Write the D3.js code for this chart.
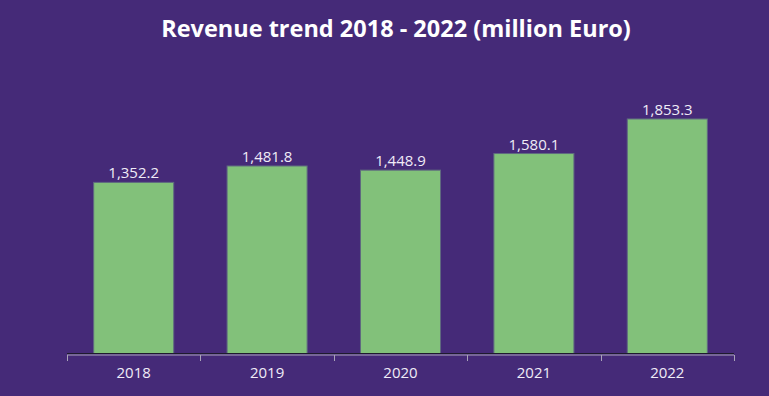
<!DOCTYPE html>
<html>
<head>
<meta charset="utf-8">
<script src="https://cdn.jsdelivr.net/npm/d3@7"></script>
<style>
  html, body { margin: 0; padding: 0; background: #452a78; }
  svg { display: block; font-family: "Open Sans", sans-serif; }
</style>
</head>
<body>
<svg id="chart" width="769" height="396"></svg>
<script>
// chart data
var years = ["2018", "2019", "2020", "2021", "2022"];
var revenue = [1352.2, 1481.8, 1448.9, 1580.1, 1853.3];
var title = "Revenue trend 2018 - 2022 (million Euro)";

var width = 769, height = 396;
var left = 67, right = 734, bottom = 353.5;
var fmt = d3.format(",.1f");

var svg = d3.select("#chart");

svg.append("rect")
    .attr("width", width)
    .attr("height", height)
    .attr("fill", "#452a78");

svg.append("text")
    .attr("x", 396)
    .attr("y", 37)
    .attr("text-anchor", "middle")
    .attr("fill", "#ffffff")
    .style("font-size", "23.5px")
    .style("font-weight", "bold")
    .text(title);

var x = d3.scaleBand().domain(years)
    .range([left, right])
    .paddingInner(0)
    .paddingOuter(0);

// one unit of revenue ~ 0.1265 px
var y = d3.scaleLinear().domain([0, 2000]).range([bottom, bottom - 2000 * 0.12655]);

var barW = x.bandwidth() * 0.6;

var rows = years.map(function(d, i) { return { year: d, value: revenue[i] }; });

svg.selectAll("rect.bar")
    .data(rows)
    .enter()
    .append("rect")
    .attr("class", "bar")
    .attr("x", function(d) { return x(d.year) + (x.bandwidth() - barW) / 2; })
    .attr("y", function(d) { return y(d.value); })
    .attr("width", barW)
    .attr("height", function(d) { return bottom - y(d.value); })
    .attr("fill", "#82c17a")
    .attr("stroke", "#5f6a80")
    .attr("stroke-width", 1);

svg.selectAll("text.val")
    .data(rows)
    .enter()
    .append("text")
    .attr("class", "val")
    .attr("x", function(d) { return x(d.year) + x.bandwidth() / 2; })
    .attr("y", function(d) { return y(d.value) - 4; })
    .attr("text-anchor", "middle")
    .attr("fill", "#f0ecf7")
    .style("font-size", "15px")
    .text(function(d) { return fmt(d.value); });

// dark baseline under the bars
svg.append("line")
    .attr("x1", left)
    .attr("x2", right)
    .attr("y1", bottom)
    .attr("y2", bottom)
    .attr("stroke", "#1e1a2e")
    .attr("stroke-width", 1);

var axis = svg.append("g")
    .attr("transform", "translate(0," + (bottom + 1.5) + ")")
    .call(d3.axisBottom(x).tickSize(0).tickPadding(12));

axis.select(".domain").remove();
axis.selectAll("text")
    .attr("fill", "#f0ecf7")
    .style("font-size", "15px")
    .style("font-family", "Open Sans, sans-serif");

// grey axis rule with ticks at band edges
var edges = years.map(function(d) { return x(d); }).concat([right]);
axis.append("line")
    .attr("x1", left)
    .attr("x2", right)
    .attr("y1", 0)
    .attr("y2", 0)
    .attr("stroke", "#a9a3b8");
axis.selectAll("line.edge")
    .data(edges)
    .enter()
    .append("line")
    .attr("class", "edge")
    .attr("x1", function(d) { return Math.round(d) + 0.5; })
    .attr("x2", function(d) { return Math.round(d) + 0.5; })
    .attr("y1", 0)
    .attr("y2", 6)
    .attr("stroke", "#a9a3b8");
</script>
</body>
</html>
